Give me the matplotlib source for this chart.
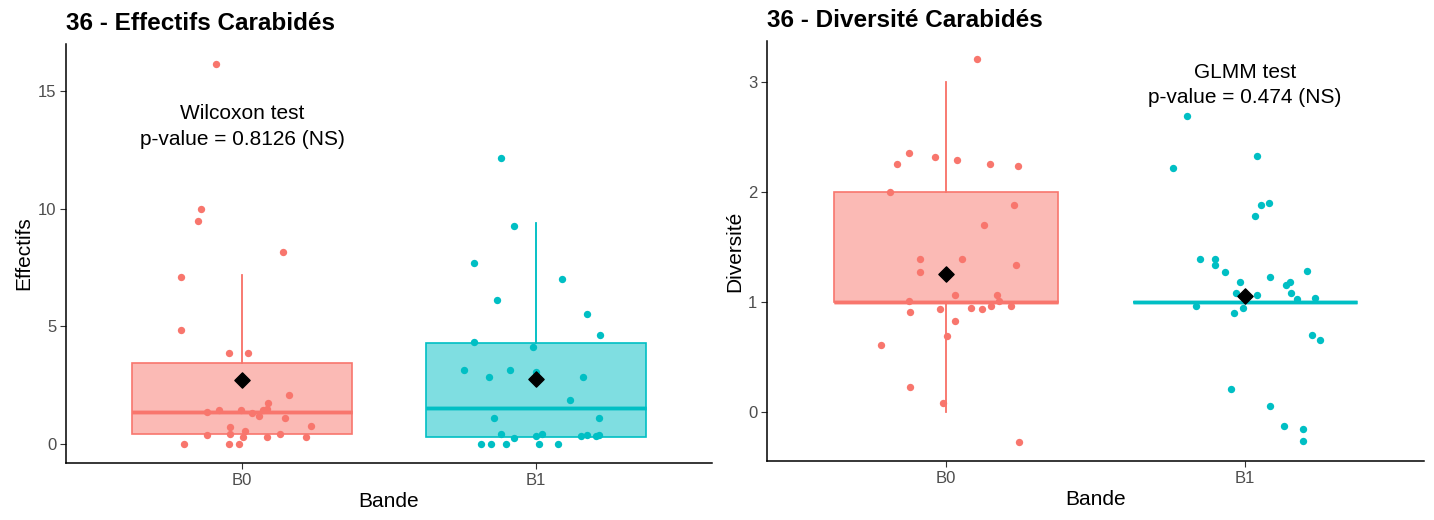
import numpy as np
import matplotlib.pyplot as plt

plt.rcParams['font.family'] = ['Liberation Sans', 'DejaVu Sans']

groups = ['B0', 'B1']
colors = ['#F8766D', '#00BFC4']

# Effectifs - jittered points (x offset from group centre, value)
eff_b0_x = [-0.089, -0.139, -0.150, 0.140, -0.209, -0.209, -0.044, 0.021, 0.159, 0.089,
            -0.119, -0.079, -0.004, 0.032, 0.056, 0.070, 0.085, 0.145, -0.040, 0.010,
            0.234, -0.119, -0.040, 0.004, 0.085, 0.129, 0.219, -0.199, -0.044, -0.010]
eff_b0_y = [16.15, 9.97, 9.46, 8.17, 7.11, 4.83, 3.85, 3.85, 2.10, 1.76,
            1.37, 1.44, 1.44, 1.30, 1.17, 1.44, 1.48, 1.11, 0.70, 0.56,
            0.75, 0.38, 0.42, 0.31, 0.31, 0.44, 0.31, 0.0, 0.0, 0.0]
eff_b1_x = [-0.119, -0.074, -0.212, 0.090, -0.133, 0.175, 0.219, -0.212, -0.009, -0.244,
            -0.089, -0.159, 0.000, 0.160, 0.116, -0.143, 0.215, -0.119, -0.074, 0.000,
            0.020, 0.155, 0.175, 0.205, 0.215, -0.188, -0.153, -0.103, 0.011, 0.076]
eff_b1_y = [12.14, 9.28, 7.68, 7.00, 6.13, 5.51, 4.63, 4.34, 4.13, 3.15,
            3.15, 2.85, 3.06, 2.85, 1.86, 1.11, 1.11, 0.44, 0.25, 0.32,
            0.44, 0.32, 0.38, 0.32, 0.38, 0.0, 0.0, 0.0, 0.0, 0.0]

# Diversite - jittered points
div_b0_x = [0.102, -0.124, -0.036, 0.037, -0.164, 0.146, 0.239, -0.187, 0.226, 0.127,
            -0.089, 0.053, 0.235, -0.089, 0.029, 0.171, -0.124, 0.176, 0.151, 0.216,
            0.082, 0.121, -0.022, -0.120, 0.029, 0.004, -0.218, -0.120, -0.012, 0.245]
div_b0_y = [3.21, 2.35, 2.32, 2.29, 2.25, 2.25, 2.24, 2.00, 1.88, 1.70,
            1.39, 1.39, 1.34, 1.27, 1.07, 1.07, 1.01, 1.01, 0.97, 0.965,
            0.95, 0.94, 0.94, 0.91, 0.83, 0.69, 0.61, 0.23, 0.09, -0.27]
div_b1_x = [-0.193, 0.042, -0.239, 0.082, 0.056, 0.033, -0.150, -0.099, -0.099, -0.066,
            0.209, 0.086, -0.016, 0.137, 0.151, -0.030, 0.042, 0.156, 0.174, 0.235,
            -0.164, -0.006, -0.036, 0.225, 0.252, -0.046, 0.086, 0.131, 0.195, 0.195]
div_b1_y = [2.69, 2.33, 2.22, 1.90, 1.88, 1.78, 1.39, 1.39, 1.34, 1.27,
            1.28, 1.23, 1.18, 1.16, 1.18, 1.085, 1.07, 1.085, 1.025, 1.034,
            0.97, 0.95, 0.90, 0.70, 0.66, 0.21, 0.06, -0.12, -0.15, -0.26]

# box statistics (q1, median, q3, whisker low, whisker high, mean)
eff_q1 = [0.42, 0.31]
eff_med = [1.34, 1.52]
eff_q3 = [3.42, 4.27]
eff_wlo = [0.42, 0.31]
eff_whi = [7.2, 9.38]
eff_mean = [2.72, 2.77]

div_q1 = [1.0, 1.0]
div_med = [1.0, 1.0]
div_q3 = [2.0, 1.0]
div_wlo = [0.0, 1.0]
div_whi = [3.0, 1.0]
div_mean = [1.257, 1.061]

fig = plt.figure(figsize=(14.34, 5.2), dpi=100)
ax1 = fig.add_axes([0.046, 0.1096, 0.4505, 0.806])
ax2 = fig.add_axes([0.5349, 0.1135, 0.458, 0.8077])


def draw_panel(ax, q1, med, q3, wlo, whi, mean, pts, title, ylabel, yticks, ylim, note, note_xy):
    for i in range(2):
        st = [dict(q1=q1[i], med=med[i], q3=q3[i], whislo=wlo[i], whishi=whi[i], fliers=[])]
        ax.bxp(st, positions=[i], widths=0.75, patch_artist=True, showcaps=False,
               boxprops=dict(facecolor=colors[i], alpha=0.5, edgecolor='none'),
               medianprops=dict(color=colors[i], lw=2.5),
               whiskerprops=dict(color=colors[i], lw=1.1), manage_ticks=False)
        ax.bxp(st, positions=[i], widths=0.75, patch_artist=True, showcaps=False,
               boxprops=dict(facecolor='none', edgecolor=colors[i], lw=1.2),
               medianprops=dict(color=colors[i], lw=2.5),
               whiskerprops=dict(color=colors[i], lw=1.1), manage_ticks=False)
        px, py = pts[i]
        ax.scatter(np.array(px) + i, py, s=28, color=colors[i], zorder=3, linewidths=0)
        ax.scatter([i], [mean[i]], marker='D', s=60, color='black', zorder=4)
    ax.set_xlim(-0.6, 1.6)
    ax.set_ylim(*ylim)
    ax.set_xticks([0, 1])
    ax.set_xticklabels(groups)
    ax.set_yticks(yticks)
    ax.tick_params(labelcolor='#4D4D4D', labelsize=12, length=4, width=0.8,
                   color='#333333', pad=3)
    for s in ['top', 'right']:
        ax.spines[s].set_visible(False)
    for s in ['left', 'bottom']:
        ax.spines[s].set_linewidth(1.1)
    ax.set_xlabel('Bande', fontsize=15, labelpad=3)
    ax.set_ylabel(ylabel, fontsize=15, labelpad=3)
    ax.set_title(title, loc='left', fontsize=17.5, fontweight='bold', pad=10)
    ax.text(note_xy[0], note_xy[1], note, ha='center', va='center', fontsize=15,
            linespacing=1.45)


draw_panel(ax1, eff_q1, eff_med, eff_q3, eff_wlo, eff_whi, eff_mean,
           [(eff_b0_x, eff_b0_y), (eff_b1_x, eff_b1_y)],
           '36 - Effectifs Carabidés', 'Effectifs', [0, 5, 10, 15], (-0.81, 17.0),
           'Wilcoxon test\np-value = 0.8126 (NS)', (0, 13.5))
draw_panel(ax2, div_q1, div_med, div_q3, div_wlo, div_whi, div_mean,
           [(div_b0_x, div_b0_y), (div_b1_x, div_b1_y)],
           '36 - Diversité Carabidés', 'Diversité', [0, 1, 2, 3], (-0.44, 3.37),
           'GLMM test\np-value = 0.474 (NS)', (1, 2.97))

fig.savefig('out.png', dpi=100)
